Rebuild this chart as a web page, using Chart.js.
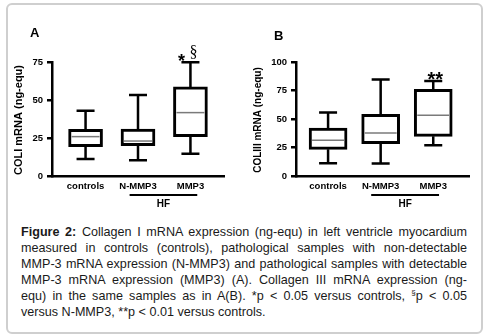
<!DOCTYPE html>
<html>
<head>
<meta charset="utf-8">
<script src="https://cdn.jsdelivr.net/npm/chart.js@4.4.0/dist/chart.umd.min.js"></script>
<style>
  body { margin: 0; background: #fff; width: 492px; height: 335px; position: relative; overflow: hidden; font-family: "Liberation Sans", Arial, sans-serif; }
  .frame { position: absolute; left: 6px; top: 3px; width: 473px; height: 327px; border: 2px solid #cfcfcf; border-radius: 6px; }
  canvas { position: absolute; top: 0; }
  .panel { position: absolute; font-weight: bold; font-size: 13px; color: #000; }
  .caption { position: absolute; left: 21px; top: 224px; width: 446px; font-size: 12.6px; line-height: 16px; color: #1a1a1a; }
  .caption div { text-align: justify; text-align-last: justify; white-space: nowrap; }
  .caption div.last { text-align-last: left; }
  sup { font-size: 8px; line-height: 0; }
</style>
</head>
<body>
<div class="frame"></div>
<canvas id="chartA" width="246" height="215" style="left:0"></canvas>
<canvas id="chartB" width="246" height="215" style="left:246px"></canvas>
<div class="panel" style="left:30px; top:25px;">A</div>
<div class="panel" style="left:274px; top:28px;">B</div>
<div class="caption">
  <div><b>Figure 2:</b> Collagen I mRNA expression (ng-equ) in left ventricle myocardium</div>
  <div>measured in controls (controls), pathological samples with non-detectable</div>
  <div>MMP-3 mRNA expression (N-MMP3) and pathological samples with detectable</div>
  <div>MMP-3 mRNA expression (MMP3) (A). Collagen III mRNA expression (ng-</div>
  <div>equ) in the same samples as in A(B). *p &lt; 0.05 versus controls, <sup>§</sup>p &lt; 0.05</div>
  <div class="last">versus N-MMP3, **p &lt; 0.01 versus controls.</div>
</div>
<script>
// groups on the x axis
const categories = ['controls', 'N-MMP3', 'MMP3'];

// panel A: COLI mRNA (ng-equ), box plot values
const colIMin = [11.2, 10.3, 14.7];
const colIQ1 = [19.3, 19.9, 25.9];
const colIMedian = [25.9, 23.0, 41.7];
const colIQ3 = [30.7, 30.9, 58.6];
const colIMax = [43.0, 53.3, 74.8];
const colITicks = [0, 25, 50, 75];

// panel B: COLIII mRNA (ng-equ)
const colIIIMin = [11.1, 10.9, 26.9];
const colIIIQ1 = [23.4, 28.4, 34.8];
const colIIIMedian = [31.3, 37.7, 53.2];
const colIIIQ3 = [42.1, 54.1, 76.0];
const colIIIMax = [55.6, 84.6, 83.3];
const colIIITicks = [0, 25, 50, 75, 100];

const tickFont = { family: 'Liberation Sans', weight: 'bold', size: 9.5 };

// draws whiskers, medians, the y title, significance marks and the HF bracket
const boxExtras = (cfg) => ({
    id: 'boxExtras',
    afterDraw(chart) {
        const { ctx, chartArea } = chart;
        const x = chart.scales.x;
        const y = chart.scales.y;
        ctx.save();
        ctx.strokeStyle = '#000';
        ctx.lineWidth = 2.5;
        categories.forEach((c, i) => {
            const cx = x.getPixelForValue(i);
            ctx.beginPath();
            ctx.moveTo(cx, y.getPixelForValue(cfg.q3[i]));
            ctx.lineTo(cx, y.getPixelForValue(cfg.max[i]));
            ctx.moveTo(cx, y.getPixelForValue(cfg.q1[i]));
            ctx.lineTo(cx, y.getPixelForValue(cfg.min[i]));
            ctx.moveTo(cx - 9, y.getPixelForValue(cfg.max[i]));
            ctx.lineTo(cx + 9, y.getPixelForValue(cfg.max[i]));
            ctx.moveTo(cx - 9, y.getPixelForValue(cfg.min[i]));
            ctx.lineTo(cx + 9, y.getPixelForValue(cfg.min[i]));
            ctx.stroke();
        });
        // medians
        ctx.strokeStyle = '#7a7a7a';
        ctx.lineWidth = 1.5;
        categories.forEach((c, i) => {
            const cx = x.getPixelForValue(i);
            const my = y.getPixelForValue(cfg.median[i]);
            ctx.beginPath();
            ctx.moveTo(cx - cfg.boxWidth / 2 + 3, my);
            ctx.lineTo(cx + cfg.boxWidth / 2 - 3, my);
            ctx.stroke();
        });
        // y title
        ctx.fillStyle = '#000';
        ctx.save();
        ctx.translate(cfg.titleX, (chartArea.top + chartArea.bottom) / 2 + 1);
        ctx.rotate(-Math.PI / 2);
        ctx.font = 'bold ' + cfg.titleSize + 'px "Liberation Sans"';
        ctx.textAlign = 'center';
        ctx.textBaseline = 'middle';
        ctx.fillText(cfg.title, 0, 0);
        ctx.restore();
        // significance marks above MMP3
        const topY = y.getPixelForValue(cfg.max[2]);
        const mx = x.getPixelForValue(2);
        ctx.textBaseline = 'alphabetic';
        cfg.marks.forEach(m => {
            ctx.font = m.font;
            ctx.textAlign = 'center';
            ctx.fillText(m.text, mx + m.dx, topY + m.dy);
        });
        // HF bracket
        const hy = chartArea.bottom + 19;
        ctx.strokeStyle = '#000';
        ctx.lineWidth = 2;
        ctx.beginPath();
        ctx.moveTo(x.getPixelForValue(cfg.hfFrom), hy);
        ctx.lineTo(x.getPixelForValue(cfg.hfTo), hy);
        ctx.stroke();
        ctx.font = 'bold 10px "Liberation Sans"';
        ctx.textAlign = 'center';
        ctx.textBaseline = 'middle';
        ctx.fillText('HF', x.getPixelForValue((cfg.hfFrom + cfg.hfTo) / 2), hy + 9);
        ctx.restore();
    }
});

const makeChart = (canvasId, cfg) => {
    const ctx = document.getElementById(canvasId).getContext('2d');
    return new Chart(ctx, {
        type: 'bar',
        data: {
            datasets: [{
                data: categories.map((c, i) => ({ x: i, y: [cfg.q1[i], cfg.q3[i]] })),
                backgroundColor: '#fff',
                borderColor: '#000',
                borderWidth: 3,
                borderSkipped: false,
                barThickness: cfg.boxWidth,
            }],
        },
        options: {
            responsive: false,
            animation: false,
            devicePixelRatio: 1,
            layout: { padding: { left: 0, top: 62, right: cfg.padRight, bottom: 0 } },
            plugins: { legend: { display: false }, tooltip: { enabled: false } },
            scales: {
                x: {
                    type: 'linear',
                    offset: false,
                    bounds: 'data',
                    min: cfg.xMin,
                    max: cfg.xMax,
                    afterBuildTicks: s => { s.ticks = categories.map((c, i) => ({ value: i })); },
                    afterFit: s => { s.height = 39; },
                    ticks: {
                        callback: v => categories[v],
                        font: tickFont,
                        color: '#000',
                        padding: 5,
                        autoSkip: false,
                        maxRotation: 0,
                    },
                    grid: { display: false, drawTicks: false },
                    border: { color: '#000', width: 2.5 },
                },
                y: {
                    min: 0,
                    max: cfg.ticks[cfg.ticks.length - 1],
                    afterBuildTicks: s => { s.ticks = cfg.ticks.map(v => ({ value: v })); },
                    afterFit: s => { s.width = cfg.axisLeft; },
                    ticks: { font: tickFont, color: '#000', padding: 4 },
                    grid: { drawOnChartArea: false, tickLength: 5, color: '#000', lineWidth: 2.5 },
                    border: { color: '#000', width: 2.5 },
                },
            },
        },
        plugins: [boxExtras(cfg)],
    });
};

makeChart('chartA', {
    min: colIMin, q1: colIQ1, median: colIMedian, q3: colIQ3, max: colIMax, ticks: colITicks,
    boxWidth: 34, axisLeft: 52, padRight: 22, xMin: -0.64, xMax: 2.64,
    title: 'COLI mRNA (ng-equ)', titleX: 19, titleSize: 11,
    marks: [
        { text: '*', font: 'bold 18px "Liberation Sans"', dx: -9, dy: 5 },
        { text: '§', font: '16px "Liberation Serif"', dx: 3, dy: -5 },
    ],
    hfFrom: 0.84, hfTo: 2.13,
});

makeChart('chartB', {
    min: colIIIMin, q1: colIIIQ1, median: colIIIMedian, q3: colIIIQ3, max: colIIIMax, ticks: colIIITicks,
    boxWidth: 38, axisLeft: 50, padRight: 23, xMin: -0.61, xMax: 2.68,
    title: 'COLIII mRNA (ng-equ)', titleX: 12, titleSize: 10,
    marks: [
        { text: '**', font: 'bold 20px "Liberation Sans"', dx: 2, dy: 5 },
    ],
    hfFrom: 0.82, hfTo: 2.11,
});
</script>
</body>
</html>
